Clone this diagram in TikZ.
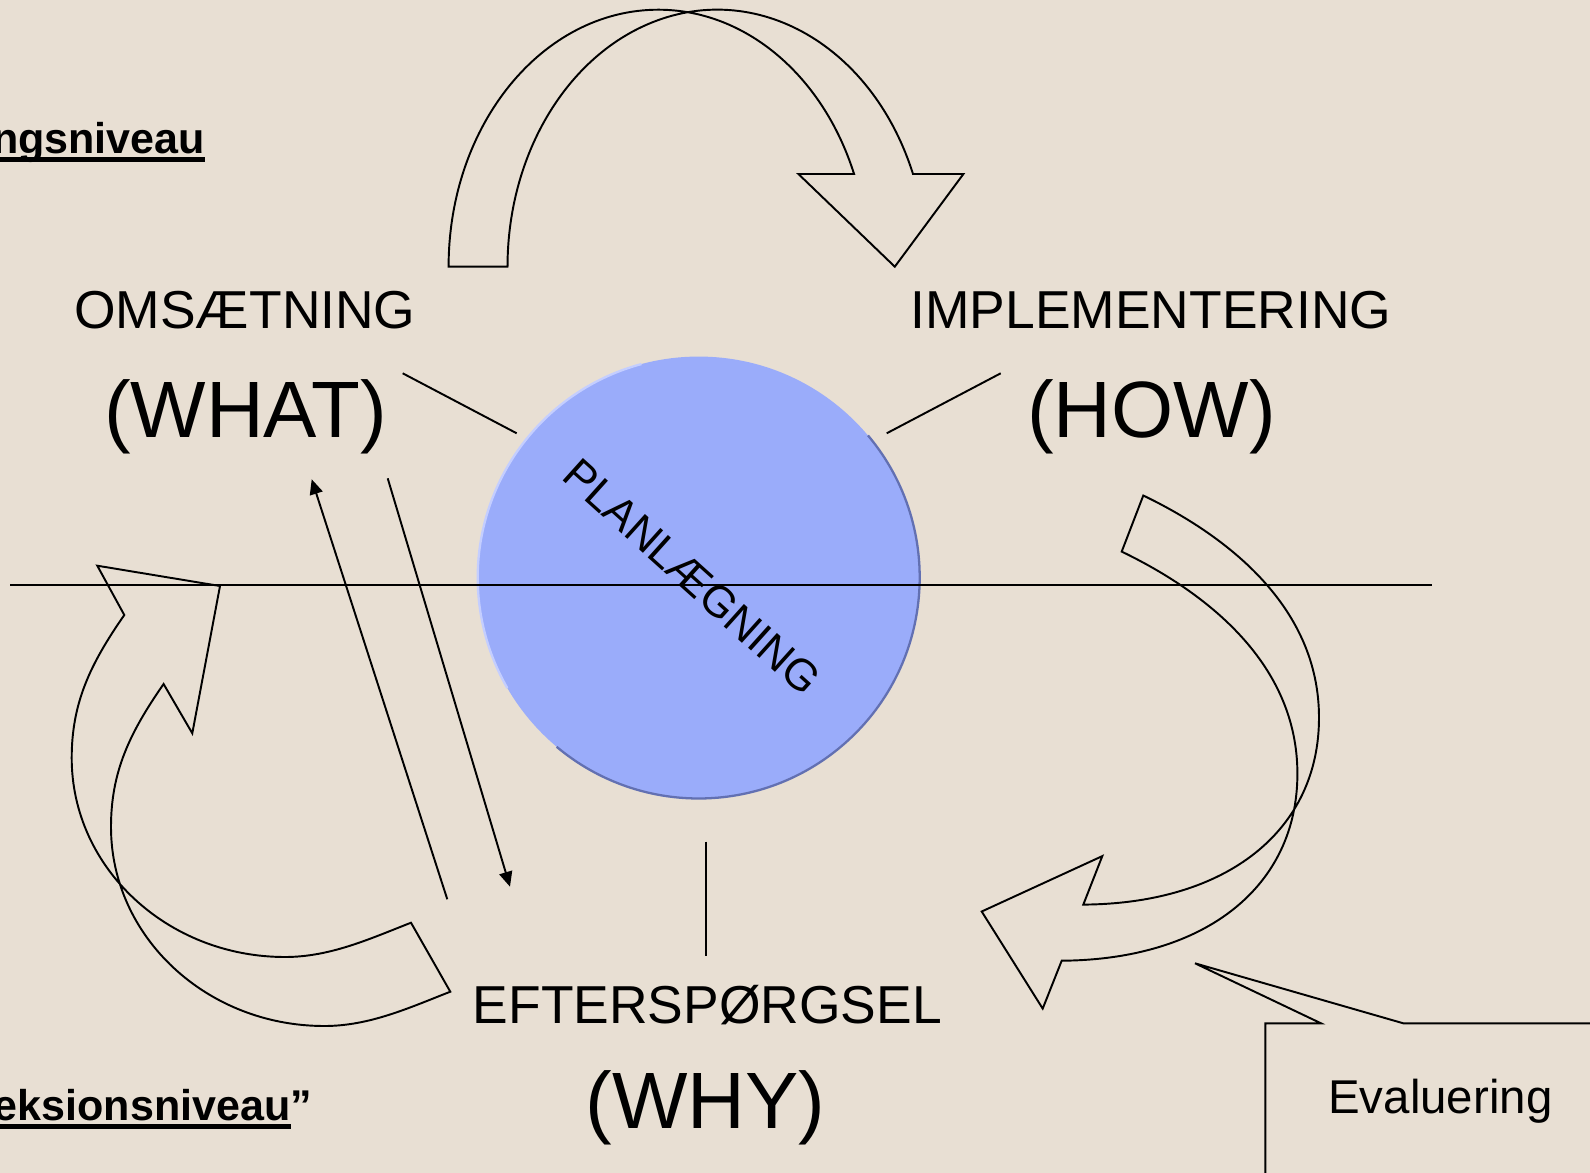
\documentclass[tikz,border=0pt]{standalone}
\usepackage{fontspec}
\setmainfont{Liberation Sans}
\usepackage{xcolor}
\usetikzlibrary{arrows.meta, positioning}

\definecolor{paper}{RGB}{232,223,211}
\definecolor{planfill}{RGB}{154,172,250}
\definecolor{planrim}{RGB}{98,112,178}
\definecolor{planlight}{RGB}{196,206,255}

\newsavebox{\ulbox}
\newcommand{\ulword}[1]{\sbox{\ulbox}{#1}\rlap{\vrule width\wd\ulbox height -2.3pt depth 5pt}\usebox{\ulbox}}

\begin{document}
\begin{tikzpicture}[x=0.02cm, y=-0.02cm, line width=1.1pt,
  >={Triangle[length=8.5pt, width=7.5pt]},
  lbl/.style={anchor=base, inner sep=0pt, font=\fontsize{30.4pt}{36pt}\selectfont},
  big/.style={anchor=base, inner sep=0pt, font=\fontsize{45.5pt}{54pt}\selectfont},
  lvl/.style={anchor=base east, inner sep=0pt, font=\bfseries\fontsize{24.5pt}{29pt}\selectfont},
  planball/.style={circle, fill=planfill, minimum size=8.84cm, inner sep=0pt},
  band/.style={draw, line join=miter}]
  \fill[paper] (0,0) rectangle (1590,1173);
  \useasboundingbox (0,0) rectangle (1590,1173);

  \node[planball] (plan) at (698.7,577.5) {};
  \draw[planrim, line width=1.3pt] (plan.center) ++(-40:221) arc[start angle=-40, end angle=130, radius=221];
  \draw[planlight, line width=1.3pt] (plan.center) ++(150:221) arc[start angle=150, end angle=255, radius=221];

  \coordinate (divl) at (10,585);
  \coordinate (divr) at (1432,585);
  \draw (divl) -- (divr);

  \node[rotate=-42, inner sep=0pt, font=\fontsize{25pt}{30pt}\selectfont] (plantxt) at (692,577) {PLANLÆGNING};

  \node[lbl] (what) at (244.9,328.6) {OMSÆTNING};
  \node[big] (whatq) at (245.4,437) {(WHAT)};
  \node[lbl] (how) at (1150.9,328.6) {IMPLEMENTERING};
  \node[big] (howq) at (1151.4,437) {(HOW)};
  \node[lbl] (why) at (707.3,1023) {EFTERSPØRGSEL};
  \node[big] (whyq) at (705.7,1128.6) {(WHY)};

  \node[lvl] (lvlup) at (206,153.3) {\ulword{ngsniveau}};
  \node[lvl] (lvldown) at (313,1120) {\ulword{eksionsniveau}”};

  \coordinate (s1a) at (402.7,373.3);
  \coordinate (s1b) at (516.7,433.3);
  \coordinate (s2a) at (1000.7,373.3);
  \coordinate (s2b) at (886.7,433.3);
  \coordinate (s3a) at (706,841.7);
  \coordinate (s3b) at (706,956);
  \draw (s1a) -- (s1b);
  \draw (s2a) -- (s2b);
  \draw (s3a) -- (s3b);

  \coordinate (upfoot) at (447.3,899.3);
  \coordinate (uptip) at (311.7,479.3);
  \coordinate (downfoot) at (387.7,478.3);
  \coordinate (downtip) at (510,886.7);
  \draw[->] (upfoot) -- (uptip);
  \draw[->] (downfoot) -- (downtip);

  \draw[band] (448.6,266.7) arc[start angle=180, end angle=338.86, x radius=209.8, y radius=257]
    -- (798.4,174) -- (894.8,266.7) -- (963.4,174) -- (913,174)
    arc[start angle=338.86, end angle=180, x radius=209.8, y radius=257] -- cycle;

  \draw[band] (1143.3,495.5) .. controls (1228.8,536.8) and (1319,607.6) .. (1319,717.6)
    .. controls (1319,829.6) and (1228.3,903.6) .. (1083.3,904.6)
    -- (1102.3,856.1) -- (981.7,911.5) -- (1042.7,1008.6) -- (1061.7,960.7)
    .. controls (1206.7,959.7) and (1297.4,885.7) .. (1297.4,773.7)
    .. controls (1297.4,663.7) and (1207.2,592.9) .. (1121.7,551.6) -- cycle;

  \draw[band] (124.3,615) .. controls (90.1,664.2) and (71.7,703) .. (71.7,758)
    .. controls (71.7,867.9) and (167.3,957) .. (285,957)
    .. controls (330,957) and (369.1,939.1) .. (411,922.7)
    -- (450.3,991.7)
    .. controls (408.4,1008.1) and (369.3,1026) .. (324.3,1026)
    .. controls (206.6,1026) and (111,936.9) .. (111,827)
    .. controls (111,772) and (129.4,733.2) .. (163.6,684)
    -- (192.3,733.3) -- (220,586) -- (97.3,565.7) -- cycle;

  \draw[band] (1265.3,1185) -- (1265.3,1023.3) -- (1321,1023.3) -- (1195,963.3)
    -- (1403.3,1023.3) -- (1600,1023.3);
  \node[anchor=base, inner sep=0pt, font=\fontsize{27pt}{32pt}\selectfont] (eval) at (1440.4,1113) {Evaluering};
\end{tikzpicture}
\end{document}
